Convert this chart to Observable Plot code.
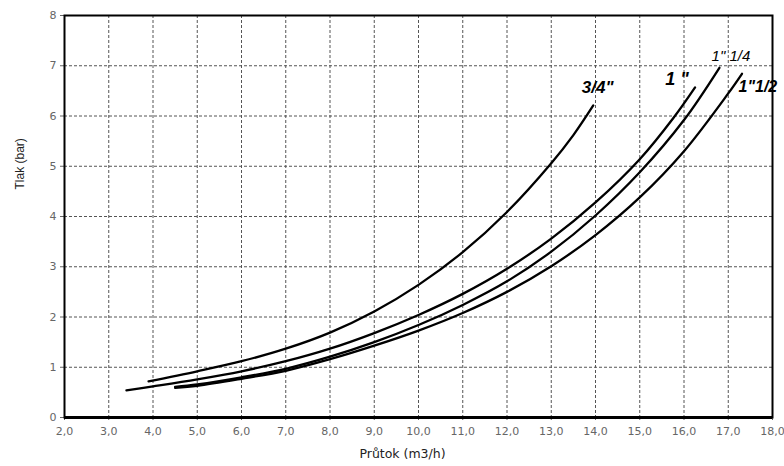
<!DOCTYPE html>
<html>
<head>
<meta charset="utf-8">
<script src="https://cdn.jsdelivr.net/npm/d3@7"></script>
<script src="https://cdn.jsdelivr.net/npm/@observablehq/plot@0.6"></script>
<style>
  html, body { margin: 0; padding: 0; background: #fff; }
  #chart svg { display: block; }
</style>
</head>
<body>
<div id="chart"></div>
<script>
// Series: [flow m3/h, pressure bar]
const series34 = [[3.9,0.72],[5,0.92],[6,1.12],[7,1.37],[8,1.69],[9,2.11],[10,2.64],[11,3.29],[12,4.09],[13,5.06],[13.5,5.62],[13.95,6.21]];
const series1 = [[3.4,0.54],[4,0.62],[5,0.76],[6,0.92],[7,1.12],[8,1.37],[9,1.68],[10,2.04],[11,2.46],[12,2.96],[13,3.56],[14,4.28],[15,5.14],[15.76,5.96],[16.25,6.57]];
const series114 = [[4.5,0.61],[5,0.66],[6,0.80],[7,0.97],[8,1.21],[9,1.50],[10,1.84],[11,2.24],[12,2.71],[13,3.30],[14,4.02],[15,4.88],[16,5.92],[16.8,6.96]];
const series112 = [[4.5,0.59],[5,0.63],[6,0.77],[7,0.93],[8,1.16],[9,1.43],[10,1.73],[11,2.08],[12,2.50],[13,3.01],[14,3.63],[15,4.38],[16,5.30],[17,6.45],[17.31,6.84]];

const seriesNames = ["3/4\"", "1\"", "1\"1/4", "1\"1/2"];
const seriesList = [series34, series1, series114, series112];

// Curve labels
const labelText = ["3/4\"", "1 \"", "1\" 1/4", "1\"1/2"];
const labelX = [14.05, 15.84, 17.06, 17.67];
const labelY = [6.57, 6.74, 7.2, 6.57];
const labelSize = [17, 18, 15, 16];
const labelWeight = ["bold", "bold", "normal", "bold"];

const xTicks = d3.range(2, 19);
const yTicks = d3.range(0, 9);

const rows = seriesList.flatMap((s, i) => s.map(([x, y]) => ({series: seriesNames[i], x, y})));
const labels = labelText.map((t, i) => ({t, x: labelX[i], y: labelY[i], s: labelSize[i], w: labelWeight[i]}));

const sansA = "Liberation Sans, Arial, sans-serif";
const sansV = "DejaVu Sans, Verdana, sans-serif";

const chart = Plot.plot({
  width: 784,
  height: 466,
  marginLeft: 64,
  marginRight: 12,
  marginTop: 15,
  marginBottom: 49,
  style: {fontFamily: sansV, background: "#fff"},
  x: {domain: [2, 18]},
  y: {domain: [0, 8]},
  marks: [
    Plot.gridX(xTicks, {stroke: "#555", strokeOpacity: 1, strokeDasharray: "3,2", strokeWidth: 1}),
    Plot.gridY(yTicks, {stroke: "#555", strokeOpacity: 1, strokeDasharray: "3,2", strokeWidth: 1}),
    Plot.axisX(xTicks, {tickFormat: d => d.toFixed(1).replace(".", ","), tickSize: 3, tickPadding: 7, fontSize: 11, fontFamily: sansV, color: "#666", label: null}),
    Plot.axisY(yTicks, {tickFormat: d => String(d), tickSize: 4, tickPadding: 4, fontSize: 11, fontFamily: sansV, color: "#666", label: null}),
    Plot.frame({stroke: "black", strokeWidth: 2}),
    Plot.ruleY([0], {stroke: "black", strokeWidth: 3}),
    Plot.line(rows, {x: "x", y: "y", z: "series", curve: "catmull-rom", stroke: "black", strokeWidth: 2.3}),
    Plot.text(labels.filter(d => d.w === "bold"), {x: "x", y: "y", text: "t", fontSize: "s", fontStyle: "italic", fontWeight: "bold", fontFamily: sansA, fill: "black", textAnchor: "middle"}),
    Plot.text(labels.filter(d => d.w !== "bold"), {x: "x", y: "y", text: "t", fontSize: "s", fontStyle: "italic", fontWeight: "normal", fontFamily: sansA, fill: "black", textAnchor: "middle"}),
    Plot.text(["Tlak (bar)"], {frameAnchor: "left", dx: -44, dy: -27, rotate: -90, fontSize: 12, fontFamily: sansA, fill: "#222"}),
    Plot.text(["Průtok (m3/h)"], {frameAnchor: "bottom", dx: -16, dy: 40, fontSize: 12.5, fill: "#222", fontFamily: sansV})
  ]
});
document.getElementById("chart").appendChild(chart);
</script>
</body>
</html>
